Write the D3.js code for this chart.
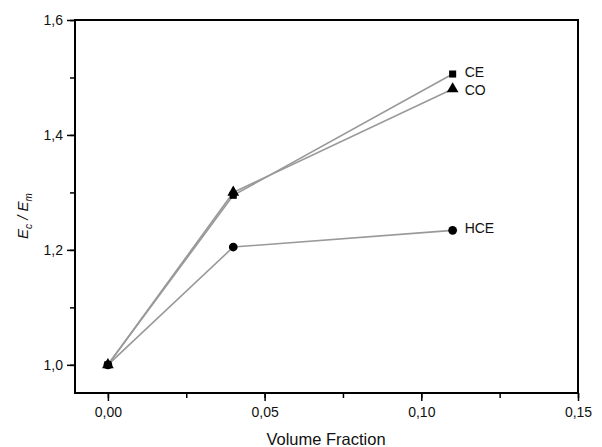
<!DOCTYPE html>
<html>
<head>
<meta charset="utf-8">
<script src="https://cdn.jsdelivr.net/npm/d3@7"></script>
<style>
  body { margin: 0; background: #fff; }
  text { font-family: "Liberation Sans", Arial, sans-serif; }
</style>
</head>
<body>
<div id="grafico"></div>
<script>
// dados
const fracoes = [0.00, 0.04, 0.11];
const serieCE = [1.000, 1.295, 1.506];
const serieCO = [1.000, 1.300, 1.480];
const serieHCE = [1.000, 1.205, 1.234];
const nomes = ["CE", "CO", "HCE"];
const marcadores = ["square", "triangle", "circle"];
const ticksX = [0.00, 0.05, 0.10, 0.15];
const ticksY = [1.0, 1.2, 1.4, 1.6];

// medidas
const W = 602, H = 447;
const margem = { superior: 20, inferior: 54, esquerda: 75, direita: 24 };
const largura = W - margem.esquerda - margem.direita;
const altura = H - margem.superior - margem.inferior;

const svg = d3.select("#grafico")
  .append("svg")
    .attr("width", W)
    .attr("height", H)
  .append("g")
    .attr("transform", `translate(${margem.esquerda},${margem.superior})`);

const x = d3.scaleLinear().domain([-0.0105, 0.15]).range([0, largura]);
const y = d3.scaleLinear().domain([0.951, 1.6]).range([altura, 0]);

const virgula = f => v => d3.format(f)(v).replace(".", ",");

// ticks menores
svg.append("g")
  .attr("transform", `translate(0,${altura})`)
  .call(d3.axisBottom(x).tickValues(d3.range(0, 0.151, 0.025)).tickSize(5).tickFormat(""))
  .call(g => g.select(".domain").remove())
  .selectAll("line").attr("stroke-width", 1.5);
svg.append("g")
  .call(d3.axisLeft(y).tickValues(d3.range(1.0, 1.61, 0.1)).tickSize(5).tickFormat(""))
  .call(g => g.select(".domain").remove())
  .selectAll("line").attr("stroke-width", 1.5);

// eixo X
const eixoX = svg.append("g")
  .attr("transform", `translate(0,${altura})`)
  .call(d3.axisBottom(x).tickValues(ticksX).tickSize(8).tickPadding(6).tickFormat(virgula(".2f")));
eixoX.select(".domain").remove();
eixoX.selectAll("line").attr("stroke-width", 1.5);
eixoX.selectAll("text").attr("font-size", "14px").attr("fill", "#111");

// eixo Y
const eixoY = svg.append("g")
  .call(d3.axisLeft(y).tickValues(ticksY).tickSize(8).tickPadding(4).tickFormat(virgula(".1f")));
eixoY.select(".domain").remove();
eixoY.selectAll("line").attr("stroke-width", 1.5);
eixoY.selectAll("text").attr("font-size", "14px").attr("fill", "#111");

// moldura
svg.append("rect")
  .attr("width", largura)
  .attr("height", altura)
  .attr("fill", "none")
  .attr("stroke", "#000")
  .attr("stroke-width", 2);

// séries
const series = [serieCE, serieCO, serieHCE].map((v, i) => ({
  nome: nomes[i],
  marcador: marcadores[i],
  pontos: fracoes.map((f, j) => ({ f, v: v[j] }))
}));

const linha = d3.line().x(d => x(d.f)).y(d => y(d.v));

svg.append("g")
  .selectAll("path")
  .data(series)
  .join("path")
    .attr("d", d => linha(d.pontos))
    .attr("fill", "none")
    .attr("stroke", "#999")
    .attr("stroke-width", 1.6);

const simbolos = { square: d3.symbolSquare, triangle: d3.symbolTriangle, circle: d3.symbolCircle };
const tamanhos = { square: 50, triangle: 60, circle: 60 };

series.forEach(s => {
  svg.append("g")
    .selectAll("path")
    .data(s.pontos)
    .join("path")
      .attr("transform", d => `translate(${x(d.f)},${y(d.v)})`)
      .attr("d", d3.symbol().type(simbolos[s.marcador]).size(tamanhos[s.marcador]))
      .attr("fill", "#000");

  const ultimo = s.pontos[s.pontos.length - 1];
  svg.append("text")
    .attr("x", x(ultimo.f) + 12)
    .attr("y", y(ultimo.v) + (s.nome === "CO" ? 2 : -1))
    .attr("dominant-baseline", "middle")
    .attr("font-size", "14px")
    .attr("fill", "#111")
    .text(s.nome);
});

// títulos dos eixos
svg.append("text")
  .attr("x", 251)
  .attr("y", altura + 52)
  .attr("text-anchor", "middle")
  .attr("font-size", "16.5px")
  .attr("fill", "#111")
  .text("Volume Fraction");

const tituloY = svg.append("text")
  .attr("transform", `translate(${-47},${196}) rotate(-90)`)
  .attr("text-anchor", "middle")
  .attr("font-size", "15px")
  .attr("font-style", "italic")
  .attr("fill", "#111");
tituloY.append("tspan").text("E");
tituloY.append("tspan").attr("font-size", "10px").attr("dy", 4).text("c");
tituloY.append("tspan").attr("dy", -4).text(" / E");
tituloY.append("tspan").attr("font-size", "10px").attr("dy", 4).text("m");
</script>
</body>
</html>
